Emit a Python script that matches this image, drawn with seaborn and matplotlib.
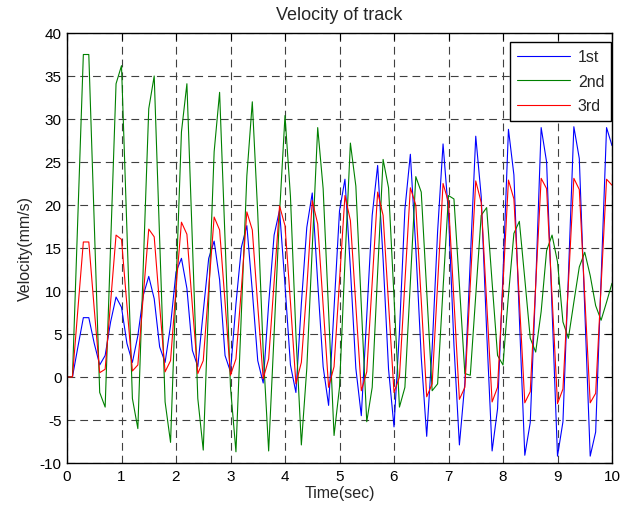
import numpy as np
import pandas as pd
import matplotlib
matplotlib.use("Agg")
import matplotlib.pyplot as plt
import seaborn as sns

# ---- data (sampled every 0.1 s from 0 to 10 s) ----
n_samples = 101
time_step = 0.1

first = [0, 0, 3.5, 6.9, 6.9, 3.9,
         1.4, 2.5, 6.4, 9.3, 8.1, 3.9,
         1.7, 4.8, 9.5, 11.7, 9.1, 3.5,
         1.7, 6.0, 12.2, 13.8, 10.3, 3.1,
         1.2, 7.6, 13.8, 15.8, 11.3, 2.5,
         0.6, 8.5, 15.1, 17.6, 10.0, 1.9,
         -0.7, 8.5, 16.5, 19.4, 10.7, 1.4,
         -1.8, 8.5, 17.4, 21.4, 11.0, 1.2,
         -3.3, 8.0, 19.3, 23.0, 12.6, 1.0,
         -4.5, 7.1, 18.8, 24.6, 13.7, 0.9,
         -5.8, 5.3, 19.5, 25.9, 15.0, 2.3,
         -6.9, 3.3, 16.9, 27.1, 19.0, 3.7,
         -7.9, -0.7, 13.6, 28.0, 21.0, 5.3,
         -8.6, -3.7, 12.0, 28.8, 23.5, 6.9,
         -9.1, -5.3, 10.7, 29.0, 25.0, 7.9,
         -9.2, -5.2, 11.8, 29.1, 25.4, 7.9,
         -9.2, -6.4, 11.4, 29.0, 26.9]

second = [0, 0, 18.8, 37.5, 37.5, 17.9,
          -1.8, -3.5, 15.3, 34.1, 36.2, 17.0,
          -2.5, -6.0, 13.0, 31.2, 35.0, 16.0,
          -2.9, -7.6, 10.5, 28.5, 34.1, 15.8,
          -2.5, -8.5, 9.0, 26.2, 33.1, 16.0,
          -1.2, -8.7, 7.5, 23.4, 32.0, 19.0,
          3.0, -8.6, 5.0, 19.0, 30.4, 21.0,
          5.0, -7.9, 1.0, 15.0, 29.0, 21.9,
          7.6, -6.8, -1.2, 13.4, 27.2, 22.2,
          8.3, -5.2, -1.2, 12.2, 25.3, 22.0,
          9.3, -3.5, -1.2, 11.0, 23.3, 21.5,
          10.0, -1.6, -0.8, 10.3, 21.1, 20.7,
          10.7, 0.4, 0.2, 9.5, 18.8, 19.7,
          11.0, 2.5, 1.4, 9.5, 16.7, 18.1,
          11.4, 4.5, 2.9, 7.6, 14.7, 16.5,
          13.4, 6.4, 4.5, 8.7, 12.8, 14.5,
          11.8, 8.3, 6.6, 8.7, 10.9]

third = [0, 0, 7.9, 15.7, 15.7, 7.9,
         0.5, 0.9, 8.7, 16.5, 16.0, 8.3,
         0.7, 1.4, 9.5, 17.2, 16.3, 8.3,
         0.6, 1.9, 10.3, 18.0, 16.6, 8.3,
         0.4, 1.9, 10.3, 18.6, 17.1, 8.7,
         0.2, 2.1, 10.3, 19.2, 17.1, 8.3,
         -0.2, 2.1, 11.0, 19.9, 17.6, 8.7,
         -0.8, 1.7, 10.3, 20.5, 17.8, 8.3,
         -1.2, 1.2, 11.2, 21.1, 18.2, 8.3,
         -1.6, 0.6, 11.0, 21.5, 18.8, 8.5,
         -1.8, 0.0, 11.0, 22.0, 20.0, 8.9,
         -2.3, -0.8, 10.8, 22.5, 20.3, 8.9,
         -2.6, -1.2, 10.8, 22.8, 20.3, 8.7,
         -2.9, -1.2, 10.8, 22.9, 20.7, 8.9,
         -3.0, -1.7, 10.7, 23.1, 21.9, 9.4,
         -3.1, -1.4, 10.9, 23.1, 21.8, 9.4,
         -3.0, -1.9, 10.6, 23.0, 22.3]

series_names = ["1st", "2nd", "3rd"]
series_colors = ["#0000ff", "#008000", "#ff0000"]
x_ticks = list(range(0, 11))
y_ticks = list(range(-10, 41, 5))

time = np.arange(n_samples) * time_step
df = pd.DataFrame({
    "Time": np.concatenate([time, time, time]),
    "Velocity": np.concatenate([first, second, third]),
    "Run": np.repeat(series_names, n_samples),
})

# ---- style ----
sns.set_style("white")
plt.rcParams["font.family"] = ["Liberation Sans", "DejaVu Sans"]
plt.rcParams["axes.unicode_minus"] = False

fig = plt.figure(figsize=(6.36, 5.10), dpi=100)
ax = fig.add_axes([67 / 636, 1 - 464 / 510, (612 - 67) / 636, (464 - 34) / 510])

sns.lineplot(data=df, x="Time", y="Velocity", hue="Run",
             palette=dict(zip(series_names, series_colors)),
             linewidth=0.8, ax=ax, legend=False, estimator=None, sort=False)

ax.set_xlim(0, 10)
ax.set_ylim(-10, 40)
ax.set_xticks(x_ticks)
ax.set_yticks(y_ticks)
ax.grid(True, color="0.25", linestyle=(0, (7, 4.5)), linewidth=0.8)
ax.set_axisbelow(True)
ax.tick_params(direction="in", top=True, right=True, length=5, width=0.8,
               labelsize=11, colors="black", pad=4)
for s in ax.spines.values():
    s.set_color("black")
    s.set_linewidth(1.0)

ax.set_title("Velocity of track", fontsize=13, pad=10)
ax.set_xlabel("Time(sec)", fontsize=11.5, labelpad=2)
ax.set_ylabel("Velocity(mm/s)", fontsize=11.5, labelpad=5)

handles = [plt.Line2D([], [], color=c, linewidth=0.8) for c in series_colors]
leg = ax.legend(handles, series_names, loc="upper right",
                bbox_to_anchor=(0.999, 0.979), fontsize=11.5,
                frameon=True, fancybox=False, framealpha=1,
                edgecolor="black", handlelength=3.3, handletextpad=0.5,
                labelspacing=0.6, borderpad=0.45, borderaxespad=0)
leg.get_frame().set_linewidth(1.0)

fig.savefig("out.png", dpi=100)
